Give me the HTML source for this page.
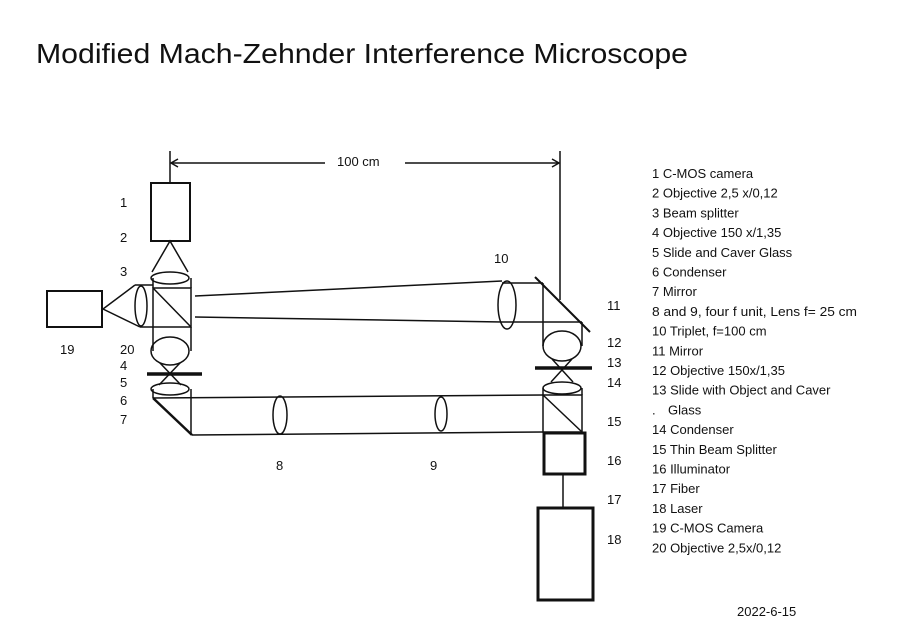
<!DOCTYPE html>
<html><head><meta charset="utf-8"><style>
html,body{margin:0;padding:0;background:#fff;}
svg{display:block;}
text{font-family:"Liberation Sans",sans-serif;fill:#111;}
</style></head><body>
<svg width="900" height="642" viewBox="0 0 900 642">
<text x="36" y="63" font-size="28" textLength="652" lengthAdjust="spacingAndGlyphs">Modified Mach-Zehnder Interference Microscope</text>
<g stroke="#111" fill="none" stroke-width="1.5">
<line x1="170" y1="151" x2="170" y2="183"/>
<line x1="560" y1="151" x2="560" y2="300"/>
<line x1="171" y1="163" x2="325" y2="163"/>
<line x1="405" y1="163" x2="559" y2="163"/>
<polyline points="178,159 171,163 178,167"/>
<polyline points="552,159 559,163 552,167"/>
<rect x="151" y="183" width="39" height="58" stroke-width="2"/>
<polyline points="152,272 170,241 188,272"/>
<ellipse cx="170" cy="278" rx="19" ry="6"/>
<rect x="153" y="288" width="38" height="39"/>
<line x1="153" y1="288" x2="191" y2="327"/>
<line x1="153" y1="278" x2="153" y2="288"/><line x1="191" y1="278" x2="191" y2="288"/>
<ellipse cx="141" cy="306" rx="6" ry="20"/>
<line x1="135" y1="285" x2="153" y2="285"/><line x1="140" y1="327" x2="153" y2="327"/>
<rect x="47" y="291" width="55" height="36" stroke-width="2"/>
<polyline points="135,285 103,309 140,327"/>
<line x1="153" y1="327" x2="153" y2="351"/><line x1="191" y1="327" x2="191" y2="351"/>
<ellipse cx="170" cy="351" rx="19" ry="14"/>
<line x1="160" y1="363" x2="181" y2="385"/><line x1="180" y1="363" x2="159" y2="385"/>
<line x1="147" y1="374" x2="202" y2="374" stroke-width="3.5"/>
<ellipse cx="170" cy="389" rx="19" ry="6"/>
<line x1="153" y1="389" x2="153" y2="398"/><line x1="191" y1="389" x2="191" y2="435"/>
<line x1="153" y1="398" x2="192" y2="435" stroke-width="2.5"/>
<line x1="153" y1="398" x2="543" y2="395"/>
<line x1="192" y1="435" x2="543" y2="432"/>
<ellipse cx="280" cy="415" rx="7" ry="19"/>
<ellipse cx="441" cy="414" rx="6" ry="17"/>
<line x1="195" y1="296" x2="502" y2="281"/>
<line x1="195" y1="317" x2="502" y2="322"/>
<line x1="502" y1="283" x2="543" y2="283"/>
<line x1="502" y1="322" x2="582" y2="322"/>
<ellipse cx="507" cy="305" rx="9" ry="24"/>
<line x1="535" y1="277" x2="590" y2="332" stroke-width="2"/>
<line x1="543" y1="283" x2="543" y2="346"/><line x1="582" y1="322" x2="582" y2="346"/>
<ellipse cx="562" cy="346" rx="19" ry="15"/>
<line x1="552" y1="359" x2="573" y2="382"/><line x1="572" y1="359" x2="551" y2="382"/>
<line x1="535" y1="368" x2="592" y2="368" stroke-width="3.5"/>
<ellipse cx="562" cy="388" rx="19" ry="6"/>
<rect x="543" y="395" width="39" height="37"/>
<line x1="543" y1="388" x2="543" y2="395"/><line x1="582" y1="388" x2="582" y2="395"/>
<line x1="543" y1="395" x2="582" y2="432"/>
<rect x="544" y="433" width="41" height="41" stroke-width="3"/>
<line x1="563" y1="474" x2="563" y2="508"/>
<rect x="538" y="508" width="55" height="92" stroke-width="3"/>
</g>
<g font-size="13">
<text x="337" y="166">100 cm</text>
<text x="120" y="207">1</text><text x="120" y="242">2</text><text x="120" y="276">3</text>
<text x="120" y="354">20</text><text x="60" y="354">19</text>
<text x="120" y="370">4</text><text x="120" y="387">5</text><text x="120" y="405">6</text><text x="120" y="424">7</text>
<text x="276" y="470">8</text><text x="430" y="470">9</text>
<text x="494" y="263">10</text>
<text x="607" y="310">11</text><text x="607" y="347">12</text><text x="607" y="367">13</text><text x="607" y="387">14</text>
<text x="607" y="426">15</text><text x="607" y="465">16</text><text x="607" y="504">17</text><text x="607" y="544">18</text>
</g>
<g font-size="13">
<text x="652" y="178">1 C-MOS camera</text>
<text x="652" y="197.7">2 Objective 2,5 x/0,12</text>
<text x="652" y="217.4">3 Beam splitter</text>
<text x="652" y="237.1">4 Objective 150 x/1,35</text>
<text x="652" y="256.8">5 Slide and Caver Glass</text>
<text x="652" y="276.5">6 Condenser</text>
<text x="652" y="296.2">7 Mirror</text>
<text x="652" y="315.9" textLength="205" lengthAdjust="spacingAndGlyphs">8 and 9,  four f unit, Lens f=  25 cm</text>
<text x="652" y="335.6">10 Triplet, f=100 cm</text>
<text x="652" y="355.3">11 Mirror</text>
<text x="652" y="375">12 Objective 150x/1,35</text>
<text x="652" y="394.7">13 Slide with Object and Caver</text>
<text x="652" y="414.4">.</text><text x="668" y="414.4">Glass</text>
<text x="652" y="434.1">14 Condenser</text>
<text x="652" y="453.8">15 Thin Beam Splitter</text>
<text x="652" y="473.5">16 Illuminator</text>
<text x="652" y="493.2">17 Fiber</text>
<text x="652" y="512.9">18 Laser</text>
<text x="652" y="532.6">19 C-MOS Camera</text>
<text x="652" y="552.3">20 Objective 2,5x/0,12</text>
<text x="737" y="616">2022-6-15</text>
</g>
</svg>
</body></html>
